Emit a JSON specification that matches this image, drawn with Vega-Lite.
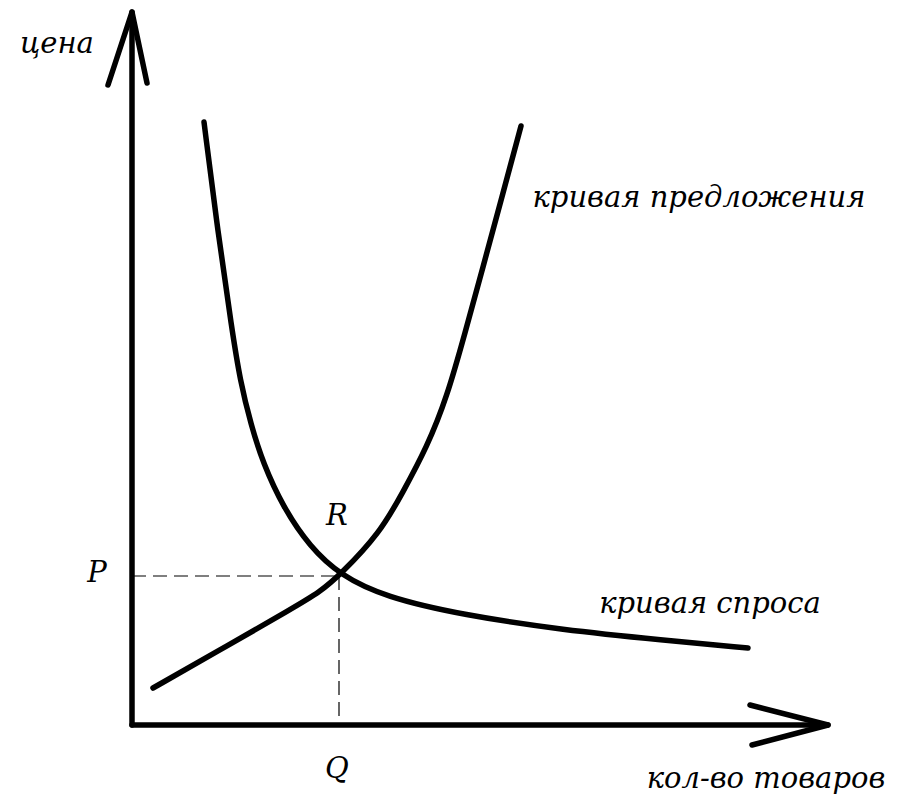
{
  "$schema": "https://vega.github.io/schema/vega-lite/v6.json",
  "width": 904,
  "height": 800,
  "autosize": {"type": "fit", "contains": "padding"},
  "padding": 0,
  "background": "white",
  "config": {"view": {"stroke": null}},
  "datasets": {
    "axes": [
      {"seg": "y-axis", "i": 0, "x": 0, "y": 0},
      {"seg": "y-axis", "i": 1, "x": 0, "y": 713},
      {"seg": "y-head", "i": 0, "x": -24, "y": 640},
      {"seg": "y-head", "i": 1, "x": 0, "y": 713},
      {"seg": "y-head", "i": 2, "x": 15, "y": 642},
      {"seg": "x-axis", "i": 0, "x": 0, "y": 0},
      {"seg": "x-axis", "i": 1, "x": 696, "y": 0},
      {"seg": "x-head", "i": 0, "x": 618, "y": 20},
      {"seg": "x-head", "i": 1, "x": 696, "y": 0},
      {"seg": "x-head", "i": 2, "x": 620, "y": -20}
    ],
    "curves": [
      {"seg": "supply", "i": 0, "x": 21, "y": 37},
      {"seg": "supply", "i": 1, "x": 95, "y": 79},
      {"seg": "supply", "i": 2, "x": 161, "y": 117},
      {"seg": "supply", "i": 3, "x": 188, "y": 133},
      {"seg": "supply", "i": 4, "x": 208, "y": 150},
      {"seg": "supply", "i": 5, "x": 248, "y": 192},
      {"seg": "supply", "i": 6, "x": 271, "y": 233},
      {"seg": "supply", "i": 7, "x": 295, "y": 278},
      {"seg": "supply", "i": 8, "x": 315, "y": 328},
      {"seg": "supply", "i": 9, "x": 333, "y": 392},
      {"seg": "supply", "i": 10, "x": 351, "y": 458},
      {"seg": "supply", "i": 11, "x": 371, "y": 532},
      {"seg": "supply", "i": 12, "x": 389, "y": 599},
      {"seg": "demand", "i": 0, "x": 72, "y": 603},
      {"seg": "demand", "i": 1, "x": 86, "y": 492},
      {"seg": "demand", "i": 2, "x": 100, "y": 395},
      {"seg": "demand", "i": 3, "x": 108, "y": 345},
      {"seg": "demand", "i": 4, "x": 119, "y": 300},
      {"seg": "demand", "i": 5, "x": 131, "y": 262},
      {"seg": "demand", "i": 6, "x": 151, "y": 218},
      {"seg": "demand", "i": 7, "x": 178, "y": 178},
      {"seg": "demand", "i": 8, "x": 208, "y": 150},
      {"seg": "demand", "i": 9, "x": 253, "y": 128},
      {"seg": "demand", "i": 10, "x": 331, "y": 110},
      {"seg": "demand", "i": 11, "x": 431, "y": 95},
      {"seg": "demand", "i": 12, "x": 531, "y": 85},
      {"seg": "demand", "i": 13, "x": 616, "y": 77}
    ],
    "guides": [
      {"seg": "P", "i": 0, "x": 0, "y": 149},
      {"seg": "P", "i": 1, "x": 209, "y": 149},
      {"seg": "Q", "i": 0, "x": 207, "y": 149},
      {"seg": "Q", "i": 1, "x": 207, "y": 0}
    ],
    "labels": [
      {"label": "цена", "x": -75, "y": 672},
      {"label": "кривая предложения", "x": 567, "y": 518},
      {"label": "кривая спроса", "x": 578, "y": 112},
      {"label": "кол-во товаров", "x": 634, "y": -63},
      {"label": "P", "x": -35, "y": 143},
      {"label": "Q", "x": 205, "y": -53},
      {"label": "R", "x": 205, "y": 200}
    ]
  },
  "layer": [
    {
      "data": {"name": "guides"},
      "mark": {"type": "line", "color": "black", "strokeWidth": 1.2, "strokeDash": [14, 7]},
      "encoding": {
        "x": {"field": "x", "type": "quantitative", "scale": {"domain": [-132, 772], "nice": false, "zero": false}, "axis": null},
        "y": {"field": "y", "type": "quantitative", "scale": {"domain": [-75, 725], "nice": false, "zero": false}, "axis": null},
        "detail": {"field": "seg"},
        "order": {"field": "i"}
      }
    },
    {
      "data": {"name": "axes"},
      "mark": {"type": "line", "color": "black", "strokeWidth": 5.5, "strokeCap": "round", "strokeJoin": "round"},
      "encoding": {
        "x": {"field": "x", "type": "quantitative", "scale": {"domain": [-132, 772], "nice": false, "zero": false}, "axis": null},
        "y": {"field": "y", "type": "quantitative", "scale": {"domain": [-75, 725], "nice": false, "zero": false}, "axis": null},
        "detail": {"field": "seg"},
        "order": {"field": "i"}
      }
    },
    {
      "data": {"name": "curves"},
      "mark": {"type": "line", "color": "black", "strokeWidth": 5.5, "strokeCap": "round", "interpolate": "basis"},
      "encoding": {
        "x": {"field": "x", "type": "quantitative", "scale": {"domain": [-132, 772], "nice": false, "zero": false}, "axis": null},
        "y": {"field": "y", "type": "quantitative", "scale": {"domain": [-75, 725], "nice": false, "zero": false}, "axis": null},
        "detail": {"field": "seg"},
        "order": {"field": "i"}
      }
    },
    {
      "data": {"name": "labels"},
      "mark": {"type": "text", "font": "DejaVu Serif", "fontStyle": "italic", "fontSize": 29, "align": "center", "baseline": "alphabetic", "color": "black"},
      "encoding": {
        "x": {"field": "x", "type": "quantitative", "scale": {"domain": [-132, 772], "nice": false, "zero": false}, "axis": null},
        "y": {"field": "y", "type": "quantitative", "scale": {"domain": [-75, 725], "nice": false, "zero": false}, "axis": null},
        "text": {"field": "label"}
      }
    }
  ]
}
